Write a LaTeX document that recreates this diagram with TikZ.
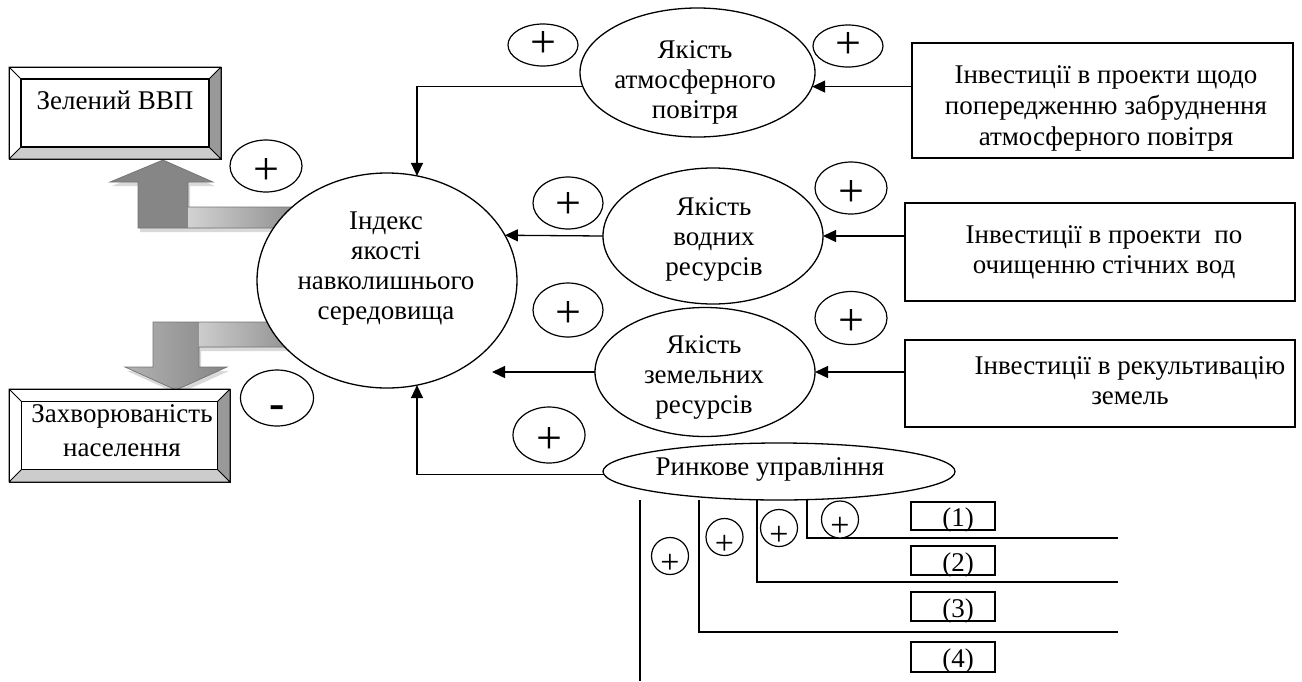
\documentclass[tikz,border=0pt]{standalone}
\usepackage{fontspec}
\setmainfont{Liberation Serif}
\usetikzlibrary{shapes.geometric,arrows.meta,calc}

% glyphs inside the sign ovals: zero-size boxes, lowered by #1 pt below the centre
\newcommand\plusmark[1]{\raisebox{-\dimexpr12.4pt+#1pt\relax}[0pt][0pt]{+}}
\newcommand\minusmark[1]{\raisebox{-\dimexpr10.4pt+#1pt\relax}[0pt][0pt]{\bfseries -}}
\newcommand\smallplusmark[1]{\raisebox{-\dimexpr9.2pt+#1pt\relax}[0pt][0pt]{+}}
\newcommand\numtext[1]{\hspace*{10pt}\raisebox{-10.5pt}[0pt][0pt]{#1}}

% bevelled frame around a rectangle node: #1 node name, #2 bevel width
\newcommand\bevelframe[2]{%
  \coordinate (#1-i1) at ($(#1.north west)+(#2,#2)$);
  \coordinate (#1-i2) at ($(#1.north east)+(-#2,#2)$);
  \coordinate (#1-i3) at ($(#1.south east)+(-#2,-#2)$);
  \coordinate (#1-i4) at ($(#1.south west)+(#2,-#2)$);
  \fill[bevelside] (#1.north east) -- (#1.south east) -- (#1-i3) -- (#1-i2) -- cycle;
  \fill[bevelbottom] (#1.south west) -- (#1.south east) -- (#1-i3) -- (#1-i4) -- cycle;
  \draw[bevelline] (#1.north west) -- (#1-i1) (#1.north east) -- (#1-i2)
                   (#1.south east) -- (#1-i3) (#1.south west) -- (#1-i4)
                   (#1.north west) rectangle (#1.south east);
  \draw[bevelinner] (#1-i1) rectangle (#1-i3);
}

\tikzset{
  txt/.style={font=\fontsize{27}{30}\selectfont, align=center, inner sep=0pt},
  oval/.style={ellipse, draw, line width=1.3pt, fill=white, inner sep=0pt, outer sep=0pt},
  infobox/.style={rectangle, draw, line width=1.3pt, fill=white, inner sep=0pt, outer sep=0pt},
  sign/.style={ellipse, draw, line width=1.2pt, fill=white, inner sep=0pt, outer sep=0pt,
    minimum width=72, minimum height=52, font=\fontsize{46}{46}\selectfont},
  smallsign/.style={circle, draw, line width=1.2pt, fill=white, inner sep=0pt, outer sep=0pt,
    minimum size=37, font=\fontsize{34}{34}\selectfont},
  numbox/.style={rectangle, draw, line width=1.3pt, fill=white, inner sep=0pt, outer sep=0pt,
    minimum width=84, minimum height=29, font=\fontsize{27}{30}\selectfont},
  framebox/.style={rectangle, draw, line width=0.8pt, fill=white, inner sep=0pt, outer sep=0pt},
  bevelside/.style={fill=gray!80},
  bevelbottom/.style={fill=gray!40},
  bevelline/.style={draw=black, line width=0.8pt},
  bevelinner/.style={draw=black, line width=1.6pt},
  arr/.style={line width=1.3pt, -{Triangle[length=13pt,width=12pt]}},
  ln/.style={line width=1.3pt},
  blockedge/.style={draw=black!55, line width=0.7pt},
  blockshadow/.style={fill=gray!30},
  uparrowpath/.style={insert path={(163,160) -- (213,182) -- (188,182) -- (188,207)
     -- (300,207) -- (300,228) -- (138,228) -- (138,182) -- (110,182) -- cycle}},
  downarrowpath/.style={insert path={(153,322) -- (300,322) -- (300,347) -- (199,347)
     -- (199,367) -- (227,367) -- (176,390) -- (125,367) -- (153,367) -- cycle}},
}

\begin{document}
\begin{tikzpicture}[x=1pt,y=-1pt]
\useasboundingbox (0,0) rectangle (1302,681);

% ---- block arrows: index -> green GDP (up), index -> morbidity (down)
\fill[blockshadow, shift={(2,4)}, uparrowpath];
\begin{scope}
  \clip[uparrowpath];
  \shade[left color=gray!95, middle color=gray!25, right color=gray!95] (110,155) rectangle (213,230);
  \shade[left color=gray!35, right color=gray!90] (188,200) rectangle (300,230);
\end{scope}
\path[blockedge, uparrowpath];

\fill[blockshadow, shift={(2,4)}, downarrowpath];
\begin{scope}
  \clip[downarrowpath];
  \shade[left color=gray!60, middle color=gray!25, right color=gray!95] (125,320) rectangle (227,392);
  \shade[left color=gray!40, right color=gray!90] (199,320) rectangle (300,349);
\end{scope}
\path[blockedge, downarrowpath];

% ---- bevelled result boxes
\node[framebox, minimum width=212, minimum height=92] (gdpbox) at (115,113) {};
\bevelframe{gdpbox}{12}
\node[txt] (gdp) at (115,100) {Зелений ВВП};

\node[framebox, minimum width=221, minimum height=93] (illbox) at (119.5,435.5) {};
\bevelframe{illbox}{12.5}
\node[txt, font=\fontsize{27}{34}\selectfont] (ill) at (122,431) {Захворюваність\\населення};

% ---- central index and quality ovals
\node[oval, minimum width=260, minimum height=215] (idx) at (387,280.5) {};
\node[txt] (idxt) at (386,269) {Індекс\\якості\\навколишнього\\середовища};

\node[oval, minimum width=235, minimum height=129] (atm) at (697.5,72.5) {};
\node[txt] (atmt) at (695,82) {Якість\\атмосферного\\повітря};

\node[oval, minimum width=220, minimum height=136] (wat) at (713,236) {};
\node[txt] (watt) at (714,239) {Якість\\водних\\ресурсів};

\node[oval, minimum width=220, minimum height=129] (lnd) at (705,372) {};
\node[txt] (lndt) at (704,377) {Якість\\земельних\\ресурсів};

\node[oval, minimum width=352, minimum height=57] (mkt) at (779,471.5) {};
\node[txt] (mktt) at (770,469) {Ринкове управління};

% ---- investment boxes
\node[infobox, minimum width=381, minimum height=115] (inv1) at (1102.5,100.5) {};
\node[txt, font=\fontsize{27}{31}\selectfont] (inv1t) at (1106,108)
  {Інвестиції в проекти щодо\\попередженню забруднення\\атмосферного повітря};

\node[infobox, minimum width=390, minimum height=98] (inv2) at (1100,252) {};
\node[txt] (inv2t) at (1104,252) {Інвестиції в проекти~ по\\очищенню стічних вод};

\node[infobox, minimum width=390, minimum height=87] (inv3) at (1100,383.5) {};
\node[txt] (inv3t) at (1130,381) {Інвестиції в рекультивацію\\земель};

% ---- sign ovals
\node[sign] (sgdp) at (266,166) {\plusmark{6}};
\node[sign, minimum width=73, minimum height=56] (sill) at (277,398) {\minusmark{10}};
\node[sign, minimum width=70, minimum height=42] (satm1) at (543,45) {\plusmark{0}};
\node[sign, minimum width=70, minimum height=42] (satm2) at (848,46) {\plusmark{0}};
\node[sign, minimum width=70] (swat1) at (568,203) {\plusmark{3}};
\node[sign] (swat2) at (851,188) {\plusmark{6}};
\node[sign, minimum width=70, minimum height=54] (slnd1) at (568,310) {\plusmark{5}};
\node[sign, minimum height=53] (slnd2) at (851,318) {\plusmark{5}};
\node[sign, minimum height=56] (smkt) at (549,435) {\plusmark{6}};

% ---- arrows into the ovals
\coordinate (landtip) at (492,372);
\draw[arr] (inv1.west |- atm.353) -- (atm.353);
\draw[arr] (inv2.west |- wat.east) -- (wat.east);
\draw[arr] (inv3.west |- lnd.east) -- (lnd.east);
\draw[arr] (wat.west) -- (idx.21);
\draw[arr] (lnd.west) -- (landtip);
\draw[arr] (atm.187) -| (idx.74);
\draw[arr] (mkt.181) -| (idx.286);

% ---- market instruments
\coordinate (k1) at (640,499);
\coordinate (k2) at (699,499);
\coordinate (k3) at (757,499);
\coordinate (k4) at (807,499);
\coordinate (e1) at (640,681);
\coordinate (e2) at (1118,632);
\coordinate (e3) at (1118,582);
\coordinate (e4) at (1118,538);
\draw[ln] (mkt.south -| k1) -- (e1);
\draw[ln] (mkt.south -| k2) |- (e2);
\draw[ln] (mkt.south -| k3) |- (e3);
\draw[ln] (mkt.south -| k4) |- (e4);

\node[smallsign] (q1) at (670,556) {\smallplusmark{8}};
\node[smallsign] (q2) at (724.5,537) {\smallplusmark{8}};
\node[smallsign] (q3) at (779,528) {\smallplusmark{8}};
\node[smallsign] (q4) at (840,519.5) {\smallplusmark{8}};

\node[numbox, minimum height=28] (n1) at (953,516) {\numtext{(1)}};
\node[numbox] (n2) at (953,560.5) {\numtext{(2)}};
\node[numbox] (n3) at (953,606.5) {\numtext{(3)}};
\node[numbox, minimum height=30] (n4) at (953,657) {\numtext{(4)}};
\end{tikzpicture}
\end{document}
